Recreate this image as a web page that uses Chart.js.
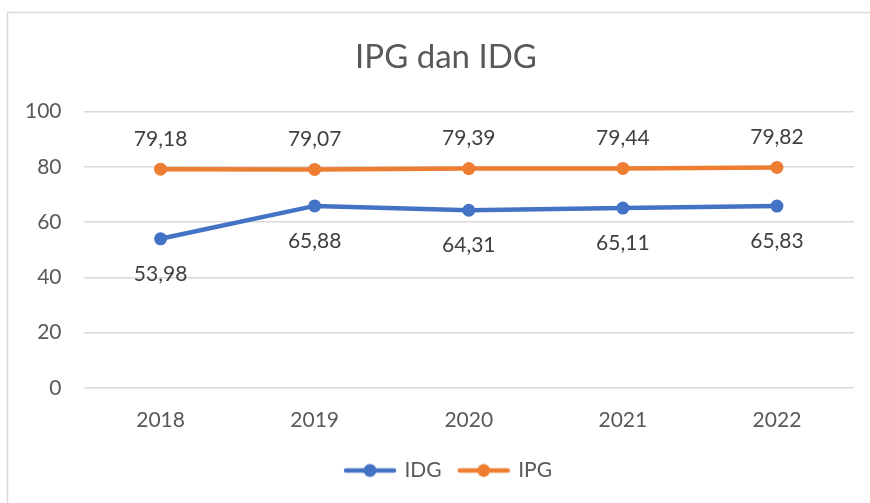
<!DOCTYPE html>
<html>
<head>
<meta charset="utf-8">
<script src="https://cdn.jsdelivr.net/npm/chart.js@4/dist/chart.umd.min.js"></script>
<style>
  html, body { margin: 0; padding: 0; background: #fff; }
  #wrap { width: 870px; height: 503px; position: relative; }
</style>
</head>
<body>
<div id="wrap"><canvas id="c"></canvas></div>
<script>
const categories = ['2018', '2019', '2020', '2021', '2022'];
const idgValues = [53.98, 65.88, 64.31, 65.11, 65.83];
const ipgValues = [79.18, 79.07, 79.39, 79.44, 79.82];
const titleText = 'IPG dan IDG';

const BLUE = '#4472C4';
const ORANGE = '#ED7D31';
const FONT = 'Lato, "Open Sans", sans-serif';

function legendIcon(color) {
  const cv = document.createElement('canvas');
  cv.width = 54; cv.height = 16;
  const g = cv.getContext('2d');
  g.strokeStyle = color; g.lineWidth = 4.5; g.lineCap = 'round';
  g.beginPath(); g.moveTo(3, 8); g.lineTo(51, 8); g.stroke();
  g.fillStyle = color;
  g.beginPath(); g.arc(27, 8, 6.5, 0, Math.PI * 2); g.fill();
  return cv;
}

// The original chart frame extends past the right edge of the picture;
// title and legend are centred on that frame.
const frame = {
  id: 'frame',
  afterLayout(chart) {
    const shift = (box, cx) => {
      if (!box) return;
      const dx = cx - (box.left + box.right) / 2;
      box.left += dx; box.right += dx;
    };
    shift(chart.titleBlock, 446);
    shift(chart.legend, 449);
  },
  beforeDraw(chart) {
    const ctx = chart.ctx;
    ctx.save();
    ctx.strokeStyle = '#d9d9d9';
    ctx.lineWidth = 1.5;
    ctx.strokeRect(7.5, 12.5, 900, 600);
    ctx.restore();
  }
};

const valueLabels = {
  id: 'valueLabels',
  afterDatasetsDraw(chart) {
    const ctx = chart.ctx;
    ctx.save();
    ctx.font = '21px ' + FONT;
    ctx.fillStyle = '#404040';
    ctx.textAlign = 'center';
    ctx.textBaseline = 'middle';
    chart.data.datasets.forEach((ds, i) => {
      const meta = chart.getDatasetMeta(i);
      meta.data.forEach((pt, j) => {
        const txt = ds.data[j].toFixed(2).replace('.', ',');
        const dy = ds.labelPos === 'above' ? -30 : 35;
        ctx.fillText(txt, pt.x, pt.y + dy);
      });
    });
    ctx.restore();
  }
};

new Chart(document.getElementById('c'), {
  type: 'line',
  data: {
    labels: categories,
    datasets: [
      {
        label: 'IDG', data: idgValues, borderColor: BLUE, backgroundColor: BLUE,
        borderWidth: 4.5, pointRadius: 6.5, pointHoverRadius: 6.5, pointBackgroundColor: BLUE,
        pointBorderWidth: 0, tension: 0, labelPos: 'below'
      },
      {
        label: 'IPG', data: ipgValues, borderColor: ORANGE, backgroundColor: ORANGE,
        borderWidth: 4.5, pointRadius: 6.5, pointHoverRadius: 6.5, pointBackgroundColor: ORANGE,
        pointBorderWidth: 0, tension: 0, labelPos: 'above'
      }
    ]
  },
  options: {
    responsive: true,
    maintainAspectRatio: false,
    animation: false,
    layout: { padding: { left: 3, right: 16, top: 20, bottom: 12 } },
    plugins: {
      title: {
        display: true, text: titleText, color: '#595959',
        font: { family: FONT, size: 33, weight: 'normal' },
        padding: { top: 18, bottom: 34 }
      },
      legend: {
        position: 'bottom',
        labels: {
          usePointStyle: true,
          pointStyleWidth: 48,
          color: '#595959',
          font: { family: FONT, size: 21 },
          padding: 18,
          generateLabels(chart) {
            return chart.data.datasets.map((ds, i) => ({
              text: ds.label,
              pointStyle: legendIcon(ds.borderColor),
              fillStyle: ds.borderColor,
              strokeStyle: ds.borderColor,
              lineWidth: 0,
              hidden: false,
              datasetIndex: i,
              fontColor: '#595959'
            }));
          }
        }
      },
      tooltip: { enabled: false }
    },
    scales: {
      x: {
        offset: true,
        grid: { display: false, drawTicks: false },
        border: { display: false },
        ticks: { color: '#595959', font: { family: FONT, size: 21 }, padding: 20 },
        afterFit(s) { s.height = 54; }
      },
      y: {
        min: 0, max: 100,
        ticks: { stepSize: 20, color: '#595959', font: { family: FONT, size: 21 }, padding: 22 },
        grid: { color: '#d9d9d9', lineWidth: 1.5, drawTicks: false },
        border: { display: false }
      }
    }
  },
  plugins: [frame, valueLabels]
});
</script>
</body>
</html>
